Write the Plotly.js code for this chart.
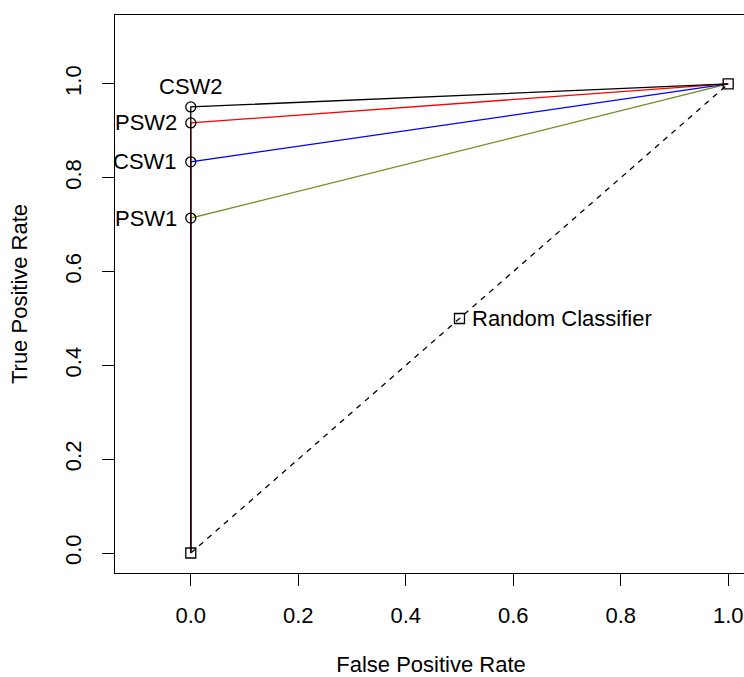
<!DOCTYPE html>
<html><head><meta charset="utf-8">
<script src="https://cdn.plot.ly/plotly-3.0.1.min.js"></script>
<style>html,body{margin:0;padding:0;overflow:hidden;background:#fff}#plot{width:760px;height:677px}</style>
</head><body><div id="plot"></div>
<script>
const classifiers = ["PSW1", "CSW1", "PSW2", "CSW2"];
const fpr = [0, 0, 0, 0];
const tpr = [0.714, 0.834, 0.917, 0.951];
const colors = ["#6B8E23", "#0000FF", "#FF0000", "#000000"];
const randomX = [0, 0.5, 1];
const randomY = [0, 0.5, 1];
const randomLabel = "Random Classifier";
const tickVals = [0, 0.2, 0.4, 0.6, 0.8, 1.0];
const tickText = ["0.0", "0.2", "0.4", "0.6", "0.8", "1.0"];

const FAM = "Liberation Sans, Arial, Helvetica, sans-serif";
const traces = [];
traces.push({x: randomX, y: randomY, mode: "lines", line: {color: "#000", width: 1.3, dash: "5.5px,5.5px"}, hoverinfo: "skip", showlegend: false});
for (let i = 0; i < classifiers.length; i++) {
  traces.push({x: [0, fpr[i], 1], y: [0, tpr[i], 1], mode: "lines", line: {color: colors[i], width: 1.3}, showlegend: false, hoverinfo: "skip"});
}
traces.push({x: fpr, y: tpr, mode: "markers", marker: {symbol: "circle-open", size: 10, color: "#000", line: {width: 1.3}}, showlegend: false, cliponaxis: false});
traces.push({x: randomX, y: randomY, mode: "markers", marker: {symbol: "square-open", size: 10, color: "#000", line: {width: 1.3}}, showlegend: false, cliponaxis: false});

const annFont = {family: FAM, size: 22, color: "#000"};
const annotations = [];
for (let i = 0; i < classifiers.length; i++) {
  if (classifiers[i] === "CSW2") {
    annotations.push({x: fpr[i], y: tpr[i], xref: "x", yref: "y", text: classifiers[i], showarrow: false, xanchor: "center", yanchor: "middle", yshift: 20, font: annFont});
  } else {
    annotations.push({x: fpr[i], y: tpr[i], xref: "x", yref: "y", text: classifiers[i], showarrow: false, xanchor: "right", yanchor: "middle", xshift: -12, font: annFont});
  }
}
annotations.push({x: randomX[1], y: randomY[1], xref: "x", yref: "y", text: randomLabel, showarrow: false, xanchor: "left", yanchor: "middle", xshift: 11, font: annFont});

const font = {family: FAM, size: 22, color: "#000"};
const layout = {
  width: 760, height: 677,
  margin: {l: 115, r: 13, t: 15, b: 104},
  paper_bgcolor: "#fff", plot_bgcolor: "#fff",
  font: font,
  showlegend: false,
  annotations: annotations,
  xaxis: {range: [-0.141, 1.035], tickvals: tickVals, ticktext: tickText,
    showgrid: false, zeroline: false, showline: true, mirror: true, linecolor: "#000", linewidth: 1,
    ticks: "outside", ticklen: 12, tickcolor: "#000", tickwidth: 1, tickfont: font, ticklabelstandoff: 11,
    title: {text: "False Positive Rate", font: font, standoff: 29}, automargin: false},
  yaxis: {range: [-0.0426, 1.147], tickvals: tickVals, ticktext: tickText,
    tickangle: -90, showgrid: false, zeroline: false, showline: true, mirror: true, linecolor: "#000", linewidth: 1,
    ticks: "outside", ticklen: 12, tickcolor: "#000", tickwidth: 1, tickfont: font, ticklabelstandoff: 12,
    title: {text: "True Positive Rate", font: font, standoff: 27}, automargin: false}
};
Plotly.newPlot("plot", traces, layout, {displayModeBar: false, staticPlot: true});
</script></body></html>
